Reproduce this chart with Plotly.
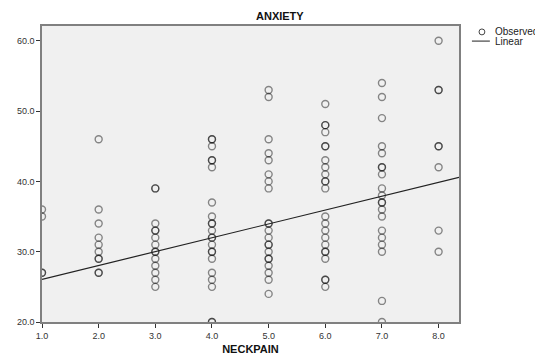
import plotly.graph_objects as go

# NECKPAIN category -> observed ANXIETY values (repeated values = overlapping cases)
col1 = [36, 35, 27, 27]
col2 = [46, 36, 34, 32, 31, 30, 29, 29, 27, 27]
col3 = [39, 39, 34, 33, 33, 32, 31, 30, 30, 29, 28, 27, 26, 25]
col4 = [46, 46, 45, 43, 43, 42, 37, 35, 34, 34, 33, 32, 32, 31, 30, 30, 29, 27, 26, 25, 20, 20]
col5 = [53, 52, 46, 44, 43, 41, 40, 39, 34, 34, 33, 32, 31, 31, 30, 29, 29, 28, 27, 26, 24]
col6 = [51, 48, 48, 47, 45, 45, 43, 42, 41, 40, 40, 39, 35, 34, 33, 32, 31, 30, 30, 29, 26, 26, 25]
col7 = [54, 52, 49, 45, 44, 42, 42, 41, 39, 38, 37, 37, 36, 35, 33, 32, 31, 30, 23, 20]
col8 = [60, 53, 53, 45, 45, 42, 33, 30]
neckpain_levels = [1, 2, 3, 4, 5, 6, 7, 8]
anxiety_by_level = [col1, col2, col3, col4, col5, col6, col7, col8]

# Linear fit
fit_intercept = 24.1
fit_slope = 1.97

x_range = [1.0, 8.36]
y_range = [20.0, 62.1]
x_ticks = [1, 2, 3, 4, 5, 6, 7, 8]
y_ticks = [20, 30, 40, 50, 60]

xs, ys = [], []
for lvl, vals in zip(neckpain_levels, anxiety_by_level):
    xs += [lvl] * len(vals)
    ys += vals

fig = go.Figure()
fig.add_trace(go.Scatter(
    x=xs, y=ys, mode="markers", name="Observed",
    marker=dict(symbol="circle-open", size=7, color="rgba(0,0,0,0.45)",
                line=dict(width=1.4, color="rgba(0,0,0,0.45)")),
    showlegend=False, cliponaxis=True,
))
fig.add_trace(go.Scatter(
    x=x_range, y=[fit_intercept + fit_slope * v for v in x_range],
    mode="lines", name="Linear", line=dict(color="#222222", width=1.2),
    showlegend=False,
))

font = "Liberation Sans, Arial, sans-serif"
fig.update_layout(
    width=535, height=356,
    margin=dict(l=42, r=76, t=26, b=34, autoexpand=False),
    paper_bgcolor="white", plot_bgcolor="#f0f0f0",
    font=dict(family=font, size=9, color="#222"),
    xaxis=dict(range=x_range, tickvals=x_ticks, tickformat=".1f", automargin=False,
               showgrid=False, zeroline=False, showline=True, mirror=True,
               linecolor="#808080", linewidth=1.5, ticks="outside", ticklen=4,
               tickcolor="#333", tickfont=dict(size=9, color="#333"),
               title=dict(text="<b>NECKPAIN</b>", font=dict(size=11, color="#111"), standoff=6)),
    yaxis=dict(range=y_range, tickvals=y_ticks, tickformat=".1f", automargin=False,
               showgrid=False, zeroline=False, showline=True, mirror=True,
               linecolor="#808080", linewidth=1.5, ticks="outside", ticklen=4,
               tickcolor="#333", tickfont=dict(size=9, color="#333")),
    annotations=[
        dict(text="<b>ANXIETY</b>", xref="paper", yref="paper", x=0.57, y=1.0,
             yanchor="middle", yshift=10, showarrow=False, font=dict(size=11, color="#111")),
        dict(text="Observed", xref="paper", yref="paper", x=1.0815, y=0.980,
             xanchor="left", yanchor="middle", showarrow=False,
             font=dict(size=10, color="#222")),
        dict(text="Linear", xref="paper", yref="paper", x=1.0815, y=0.949,
             xanchor="left", yanchor="middle", showarrow=False,
             font=dict(size=10, color="#222")),
    ],
    shapes=[
        dict(type="circle", xref="paper", yref="paper", x0=1.048, x1=1.062,
             y0=0.970, y1=0.990, line=dict(color="#444", width=1)),
        dict(type="line", xref="paper", yref="paper", x0=1.031, x1=1.074,
             y0=0.949, y1=0.949, line=dict(color="#444", width=1.2)),
    ],
)

fig.write_html(
    "out.html",
    config={"displayModeBar": False},
    post_script="document.body.style.margin='0';document.body.style.overflow='hidden';",
)
